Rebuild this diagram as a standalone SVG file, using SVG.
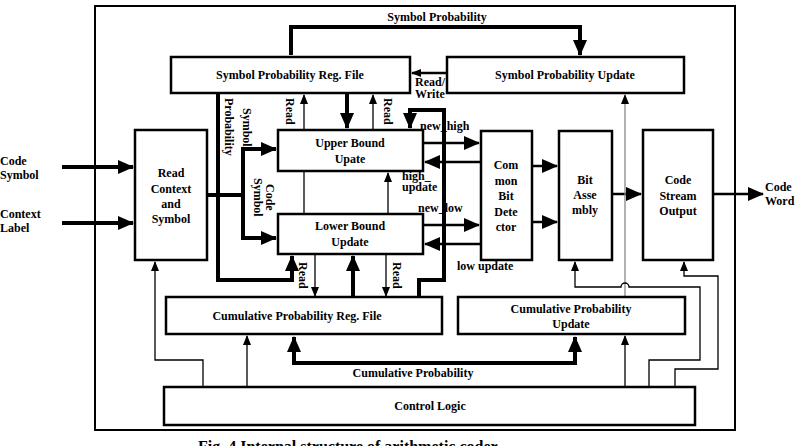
<svg xmlns="http://www.w3.org/2000/svg" width="803" height="446" viewBox="0 0 803 446">
<defs>
<style>
text{font-family:"Liberation Serif",serif;font-weight:bold;font-size:12px;fill:#000}
.b{fill:#fff;stroke:#000;stroke-width:2.5}
.t{fill:none;stroke:#000;stroke-width:1.3}
.k{fill:none;stroke:#000;stroke-width:4}
.m{fill:none;stroke:#000;stroke-width:2.5}
.g{fill:none;stroke:#888;stroke-width:1.3}
</style>
<marker id="a" markerWidth="10" markerHeight="8" refX="9" refY="4" orient="auto" markerUnits="userSpaceOnUse"><path d="M0,0L10,4L0,8z"/></marker>
<marker id="A" markerWidth="16" markerHeight="14" refX="15" refY="7" orient="auto" markerUnits="userSpaceOnUse"><path d="M0,0L16,7L0,14z"/></marker>
</defs>
<rect x="95" y="6" width="640" height="424" fill="none" stroke="#000" stroke-width="2"/>
<g id="connectors">
<path class="k" d="M291,55V27H580V55" marker-end="url(#A)"/>
<path class="k" d="M62,167H133" marker-end="url(#A)"/>
<path class="k" d="M62,223H133" marker-end="url(#A)"/>
<path class="k" d="M207,195H243"/>
<path class="k" d="M243,195V149H276" marker-end="url(#A)"/>
<path class="k" d="M243,195V238H276" marker-end="url(#A)"/>
<path class="k" d="M218,93V280H292V256" marker-end="url(#A)"/>
<path class="t" d="M304,130V95" marker-end="url(#a)"/>
<path class="t" d="M373,130V95" marker-end="url(#a)"/>
<path class="k" d="M347,93V128" marker-end="url(#A)"/>
<path class="t" d="M304,171V214"/>
<path class="t" d="M388,214V173" marker-end="url(#a)"/>
<path class="t" d="M315,254V296" marker-end="url(#a)"/>
<path class="t" d="M386,254V296" marker-end="url(#a)"/>
<path class="k" d="M353,297V256" marker-end="url(#A)"/>
<path class="k" d="M419,297V280H444V110H410V128" marker-end="url(#A)"/>
<path class="m" d="M447,73H412" marker-end="url(#a)"/>
<path class="m" d="M423,143H479" marker-end="url(#A)"/>
<path class="m" d="M481,162H425" marker-end="url(#A)"/>
<path class="m" d="M423,225H479" marker-end="url(#A)"/>
<path class="m" d="M481,244H425" marker-end="url(#A)"/>
<path class="m" d="M532,166H557" marker-end="url(#A)"/>
<path class="m" d="M532,222H557" marker-end="url(#A)"/>
<path class="m" d="M612,194H641" marker-end="url(#A)"/>
<path class="m" d="M713,194H763" marker-end="url(#A)"/>
<path class="t" d="M203,387V360H155V262" marker-end="url(#a)"/>
<path class="t" d="M247,387V336" marker-end="url(#a)"/>
<path class="k" d="M294,337V363H575V337" marker-end="url(#A)" marker-start="none"/>
<path class="k" d="M294,363V337" marker-end="url(#A)"/>
<path class="t" d="M625,387V336" marker-end="url(#a)"/>
<path class="g" d="M625,297V95" marker-end="url(#a)"/>
<path class="t" d="M649,387V360H700V287H629A4,4 0 0 0 621,287H575V262" marker-end="url(#a)"/>
<path class="t" d="M675,387V369H718V276H684V262" marker-end="url(#a)"/>
</g>
<g id="symRegFile"><rect class="b" x="171" y="57" width="239" height="36"/><text x="290" y="79" text-anchor="middle">Symbol Probability Reg. File</text></g>
<g id="symUpdate"><rect class="b" x="447" y="57" width="237" height="36"/><text x="565" y="79" text-anchor="middle">Symbol Probability Update</text></g>
<g id="readContext"><rect class="b" x="135" y="130" width="72" height="130"/><text text-anchor="middle" x="171"><tspan y="177">Read</tspan><tspan x="171" y="193">Context</tspan><tspan x="171" y="208">and</tspan><tspan x="171" y="223">Symbol</tspan></text></g>
<g id="upper"><rect class="b" x="278" y="130" width="145" height="41"/><text text-anchor="middle" x="350"><tspan y="147">Upper Bound</tspan><tspan x="350" y="163">Upate</tspan></text></g>
<g id="lower"><rect class="b" x="278" y="214" width="145" height="40"/><text text-anchor="middle" x="350"><tspan y="230">Lower Bound</tspan><tspan x="350" y="246">Update</tspan></text></g>
<g id="cbd"><rect class="b" x="481" y="131" width="51" height="129"/><text text-anchor="middle" x="506"><tspan y="169">Com</tspan><tspan x="506" y="185">mon</tspan><tspan x="506" y="200">Bit</tspan><tspan x="506" y="216">Dete</tspan><tspan x="506" y="231">ctor</tspan></text></g>
<g id="bitAsm"><rect class="b" x="559" y="131" width="53" height="129"/><text text-anchor="middle" x="585"><tspan y="184">Bit</tspan><tspan x="585" y="199">Asse</tspan><tspan x="585" y="214">mbly</tspan></text></g>
<g id="cso"><rect class="b" x="643" y="130" width="70" height="130"/><text text-anchor="middle" x="678"><tspan y="184">Code</tspan><tspan x="678" y="200">Stream</tspan><tspan x="678" y="215">Output</tspan></text></g>
<g id="cumRegFile"><rect class="b" x="166" y="297" width="276" height="37"/><text x="297" y="320" text-anchor="middle">Cumulative Probability Reg. File</text></g>
<g id="cumUpdate"><rect class="b" x="458" y="297" width="227" height="37"/><text text-anchor="middle" x="571"><tspan y="313">Cumulative Probability</tspan><tspan x="571" y="328">Update</tspan></text></g>
<g id="control"><rect class="b" x="164" y="387" width="531" height="38"/><text x="430" y="410" text-anchor="middle">Control Logic</text></g>
<g id="labels">
<text x="437" y="21" text-anchor="middle">Symbol Probability</text>
<text x="0"><tspan y="165">Code</tspan><tspan x="0" y="179">Symbol</tspan><tspan x="0" y="218">Context</tspan><tspan x="0" y="232">Label</tspan></text>
<text x="765"><tspan y="191">Code</tspan><tspan x="765" y="205">Word</tspan></text>
<text x="415"><tspan y="86">Read/</tspan><tspan x="415" y="98">Write</tspan></text>
<text x="420" y="130">new_high</text>
<text x="402"><tspan y="180">high_</tspan><tspan x="402" y="191">update</tspan></text>
<text x="418" y="212">new_low</text>
<text x="457" y="270">low  update</text>
<text x="413" y="377" text-anchor="middle">Cumulative Probability</text>
<g style="font-size:11px">
<text transform="translate(286,98) rotate(90)">Read</text>
<text transform="translate(384,98) rotate(90)">Read</text>
<text transform="translate(299,262) rotate(90)">Read</text>
<text transform="translate(393,262) rotate(90)">Read</text>
<text transform="translate(243,108) rotate(90)">Symbol</text>
<text transform="translate(225,98) rotate(90)">Probability</text>
<text transform="translate(266,184) rotate(90)">Code</text>
<text transform="translate(254,178) rotate(90)">Symbol</text>
</g>
<text x="198" y="452" style="font-size:16px">Fig. 4 Internal structure of arithmetic coder</text>
</g>
</svg>
